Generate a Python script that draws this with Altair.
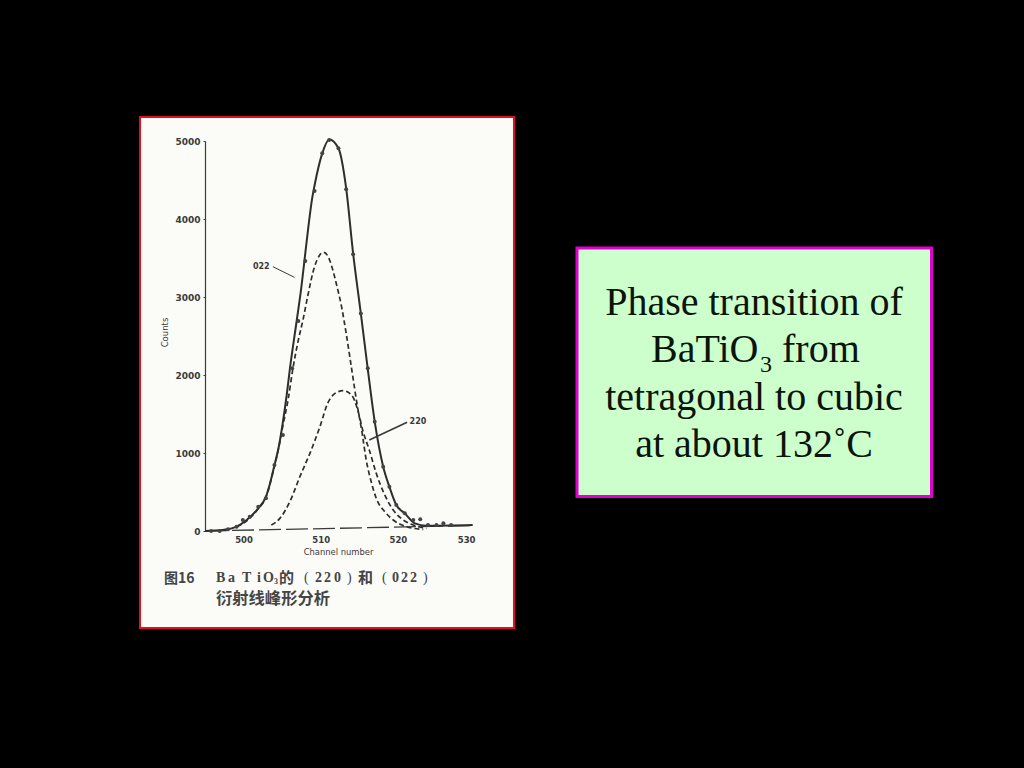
import altair as alt
import pandas as pd

# Total (220 + 022) solid curve
total_x = [495, 497.3, 499.1, 500.4, 501.9, 502.9, 503.4, 503.9, 504.6, 505.1, 505.6, 506.0, 506.9, 507.5, 507.9, 508.4, 508.9, 509.2, 510.2, 511.1, 512.3, 513.3, 514.2, 515.2, 516.1, 517.0, 518.1, 518.9, 519.8, 520.9, 522.2, 523.7, 529.7]
total_y = [0, 13, 55, 140, 290, 440, 600, 800, 1100, 1400, 1750, 2075, 2705, 3132, 3474, 3900, 4270, 4430, 4842, 5020, 4906, 4393, 3560, 2790, 2075, 1402, 825, 568, 333, 226, 98, 68, 77]
# 022 component
c022_x = [499.1, 500.4, 501.9, 502.9, 503.9, 504.6, 505.1, 505.8, 506.4, 507.1, 507.7, 508.3, 509.2, 510.4, 511.0, 511.5, 512.0, 512.7, 513.3, 514.0, 514.8, 515.3, 515.9, 516.6, 517.2, 518.3, 519.4, 521.1, 523.3]
c022_y = [55, 130, 285, 430, 790, 1090, 1350, 1700, 2085, 2449, 2705, 3004, 3389, 3573, 3510, 3370, 3180, 2876, 2534, 2085, 1573, 1300, 910, 611, 419, 248, 141, 55, 21]
# 220 component
c220_x = [503.6, 504.7, 506.0, 507.3, 508.6, 509.9, 510.9, 512.0, 512.9, 514.0, 514.8, 515.5, 516.3, 517.2, 518.3, 519.4, 520.7, 522.0, 523.7]
c220_y = [77, 162, 376, 697, 996, 1338, 1637, 1774, 1799, 1744, 1551, 1273, 1038, 739, 462, 269, 141, 77, 34]
# Measured points
pts_x = [510.2, 511.1, 512.3, 509.2, 513.3, 508.0, 514.2, 507.1, 515.2, 506.3, 516.1, 517.0, 518.1, 518.9, 519.8, 520.9, 522.0, 522.9, 523.9, 525.0, 525.9, 526.9, 505.1, 504.0, 502.9, 501.9, 500.8, 499.9, 499.1, 498.0, 496.9, 495.8]
pts_y = [4842, 5013, 4906, 4359, 4380, 3462, 3547, 2692, 2790, 2085, 2085, 1402, 825, 568, 333, 226, 141, 150, 77, 77, 98, 77, 1231, 846, 419, 312, 184, 141, 55, 21, 0, 0]
# Baseline
base_x = [495, 529.7]
base_y = [0, 70]
# Leaders
lead022_x = [503.8, 506.6]
lead022_y = [3389, 3252]
lead220_x = [521.2, 516.3]
lead220_y = [1393, 1167]
labels_text = ["022", "220"]
labels_x = [502.3, 522.6]
labels_y = [3385, 1393]
x_ticks = [500, 510, 520, 530]
y_ticks = [0, 1000, 2000, 3000, 4000, 5000]

INK = "#3a3a3a"
X = alt.X("x:Q", scale=alt.Scale(domain=[495, 530], nice=False), title="Channel number",
          axis=alt.Axis(values=x_ticks, domain=False, ticks=False, grid=False, zindex=1, labelColor=INK, labelFontSize=8.5,
                        labelFont="DejaVu Sans", labelFontWeight="bold", labelPadding=4, format="d",
                        titleColor=INK, titleFontSize=8.4, titleFont="DejaVu Sans", titleFontWeight="normal", titlePadding=4, titleX=133))
Y = alt.Y("y:Q", scale=alt.Scale(domain=[0, 5000], nice=False), title="Counts",
          axis=alt.Axis(values=y_ticks, grid=False, zindex=1, domainColor=INK, domainWidth=1.2, tickColor=INK, tickSize=2,
                        labelColor=INK, labelFontSize=9, labelFont="DejaVu Sans", labelFontWeight="bold", labelPadding=3, format="d",
                        titleColor=INK, titleFontSize=8.5, titleFont="DejaVu Sans", titleFontWeight="normal", titleY=191, titleX=-36))


def series(xs, ys):
    return alt.Chart(pd.DataFrame({"x": xs, "y": ys}))


# pixel offsets relative to the plot origin at (205, 141)
OX, OY = 205, 141


def box(x0, y0, x1, y1, fill, stroke, sw):
    return alt.Chart(pd.DataFrame({"a": [0]})).mark_rect(fill=fill, stroke=stroke, strokeWidth=sw).encode(
        x=alt.value(x0 - OX), x2=alt.value(x1 - OX), y=alt.value(y0 - OY), y2=alt.value(y1 - OY))


def txt(s, px, py, size, color="#000000", font="Liberation Serif", align="left", weight="normal"):
    return alt.Chart(pd.DataFrame({"t": [s]})).mark_text(
        font=font, fontSize=size, color=color, align=align, baseline="alphabetic", fontWeight=weight
    ).encode(x=alt.value(px - OX), y=alt.value(py - OY), text="t:N")


CJK = "Noto Sans CJK SC"
SER = "Liberation Serif"
CAP = "#444444"
TXT = "#0a140a"
spaced = [("B", 216), ("a", 228), ("T", 242), ("i", 257), ("O", 263),
          ("2", 315), ("2", 324), ("0", 334), ("0", 392), ("2", 401), ("2", 410)]
layers = [
    box(140, 117, 514, 628, "#fbfbf8", "#e01020", 2),
    box(577, 248, 931.5, 496.5, "#ccffcc", "#e000d0", 3),
    txt("Phase transition of", 754, 315, 40, TXT, align="center"),
    txt("BaTiO", 651, 362, 40, TXT),
    txt("3", 760, 372, 24, TXT),
    txt("from", 782, 362, 40, TXT),
    txt("tetragonal to cubic", 754, 410, 40, TXT, align="center"),
    txt("at about 132˚C", 754, 457, 40, TXT, align="center"),
    txt("图16", 164, 583, 14, CAP, CJK, weight="bold"),
]
layers += [txt(s, px, 582, 14, CAP, SER, weight="bold") for s, px in spaced]
layers += [
    txt("3", 274, 584, 8, CAP, SER, weight="bold"),
    txt("的", 279, 583, 15, CAP, CJK, weight="bold"),
    txt("(", 304, 582, 14, CAP, SER),
    txt(")", 347, 582, 14, CAP, SER),
    txt("和", 358, 583, 15, CAP, CJK, weight="bold"),
    txt("(", 382, 582, 14, CAP, SER),
    txt(")", 423, 582, 14, CAP, SER),
    txt("衍射线峰形分析", 216, 604, 16.3, CAP, CJK, weight="bold"),
    series(base_x, base_y).mark_line(color=INK, strokeWidth=1.3, strokeDash=[22, 5]).encode(x=X, y=Y),
    series(total_x, total_y).mark_line(color="#2e2e2e", strokeWidth=2, interpolate="monotone").encode(x=X, y=Y),
    series(c022_x, c022_y).mark_line(color="#2e2e2e", strokeWidth=1.7, strokeDash=[5, 3], interpolate="monotone").encode(x=X, y=Y),
    series(c220_x, c220_y).mark_line(color="#2e2e2e", strokeWidth=1.7, strokeDash=[5, 3], interpolate="monotone").encode(x=X, y=Y),
    series(pts_x, pts_y).mark_circle(color="#444444", size=16, opacity=1).encode(x=X, y=Y),
    series(lead022_x, lead022_y).mark_line(color=INK, strokeWidth=1).encode(x=X, y=Y),
    series(lead220_x, lead220_y).mark_line(color=INK, strokeWidth=1.6).encode(x=X, y=Y),
    alt.Chart(pd.DataFrame({"x": labels_x, "y": labels_y, "t": labels_text})).mark_text(
        font="DejaVu Sans", fontSize=8, fontWeight="bold", color=INK
    ).encode(x=X, y=Y, text="t:N"),
]

chart = alt.layer(*layers).properties(
    width=270,
    height=390,
    background="#000000",
    padding={"left": OX, "top": OY, "right": 1024 - OX - 270, "bottom": 768 - OY - 390},
    autosize=alt.AutoSizeParams(type="none"),
).configure_view(stroke=None)

chart.save("out.html", embed_options={"renderer": "svg", "actions": False,
                                      "defaultStyle": "html,body{background:#000;margin:0;overflow:hidden}"})
